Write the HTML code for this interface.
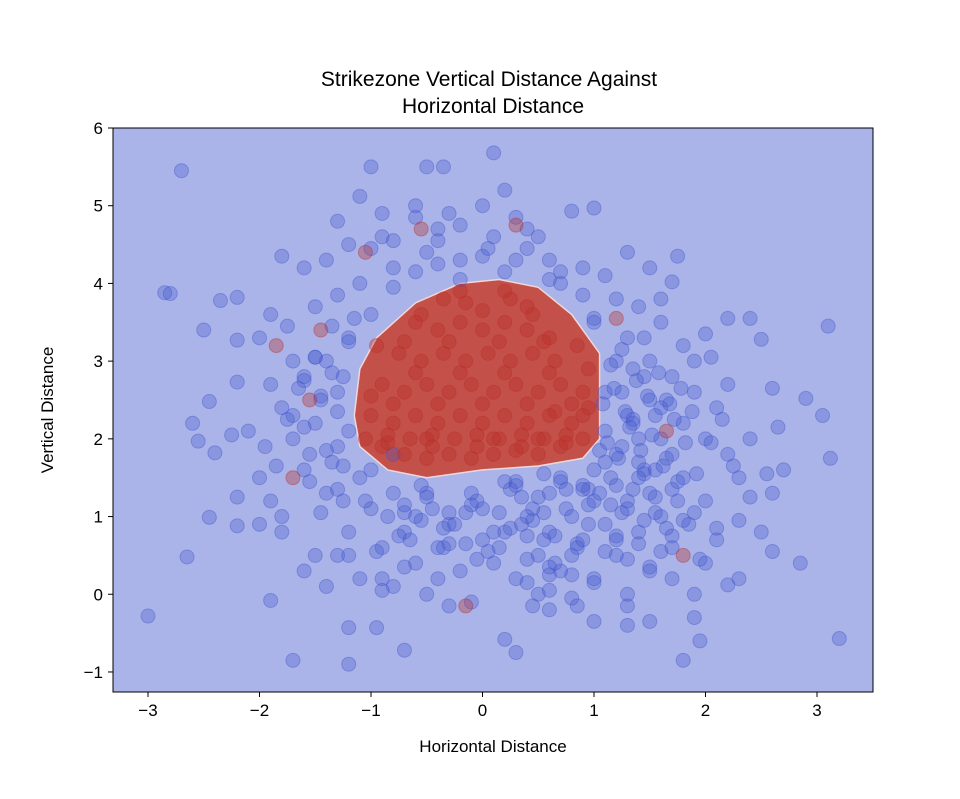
<!DOCTYPE html>
<html><head><meta charset="utf-8"><style>
body{margin:0;background:#fff;}
svg text{font-family:"Liberation Sans","DejaVu Sans",sans-serif;fill:#000;}
</style></head><body>
<svg id="chart" width="960" height="794">
<defs><clipPath id="plotclip"><rect x="113" y="128" width="760" height="564"/></clipPath></defs>
<rect x="113" y="128" width="760" height="564" fill="#aab4e8"/>
<g id="region" clip-path="url(#plotclip)"></g>
<g id="dots" clip-path="url(#plotclip)"></g>
<rect x="113" y="128" width="760" height="564" fill="none" stroke="#000" stroke-width="1"/>
<g id="xt"></g>
<g id="yt"></g>
<text x="489" y="86" text-anchor="middle" font-size="21">Strikezone Vertical Distance Against</text>
<text x="493" y="113" text-anchor="middle" font-size="21">Horizontal Distance</text>
<text x="493" y="752" text-anchor="middle" font-size="17">Horizontal Distance</text>
<text transform="translate(53,410) rotate(-90)" text-anchor="middle" font-size="17">Vertical Distance</text>
</svg>
<script>
const xTicks=[-3,-2,-1,0,1,2,3];
const yTicks=[-1,0,1,2,3,4,5,6];
const regionX=[-1.15,-1.1,-0.95,-0.6,-0.2,0.15,0.5,0.8,1.05,1.05,0.9,0.5,0,-0.5,-0.85,-1.1];
const regionY=[2.3,2.9,3.3,3.75,4.0,4.05,3.95,3.6,3.1,2.0,1.75,1.65,1.6,1.5,1.6,1.9];
const blueX=[-2.7,-2.85,-2.8,-3.0,-2.65,-1.7,-1.2,-0.7,3.2,3.1,3.12,2.85,3.05,2.9,1.8,0.3,0.2,0.1,-0.35,-0.5,-1.0,1.0,0.8,-1.1,-1.8,-2.2,-2.35,-2.5,-2.2,-2.2,-2.45,-2.6,-2.55,-2.4,-2.25,-2.2,-2.2,-2.45,-1.9,-1.2,-0.95,2.3,2.2,2.6,2.65,2.6,2.4,2.2,2.5,1.75,1.7,2.0,2.05,2.7,2.55,2.6,2.4,2.5,2.3,1.9,1.95,1.5,1.3,1.0,0.85,0.6,0.45,-0.1,-0.5,-0.8,-1.1,-1.4,-1.5,-1.8,-1.9,-2.0,-1.95,-1.8,-1.6,-1.9,-1.75,-1.5,-1.6,-1.4,-1.2,-1.3,-0.9,-0.6,-0.3,0.0,0.2,0.4,0.6,0.9,1.1,1.3,1.5,1.2,1.4,1.6,1.8,1.3,1.5,1.7,1.9,2.1,2.0,2.2,1.8,2.0,1.6,1.4,1.7,1.5,1.2,1.0,0.7,0.5,0.3,0.1,-0.2,-0.4,-0.6,-0.9,-1.2,-1.0,-1.4,-1.6,-1.3,-1.5,-1.3,-1.4,-1.2,-1.0,-1.1,-0.8,-0.5,-0.2,0.3,0.7,1.0,1.2,1.1,1.3,1.5,1.6,1.4,1.2,1.0,0.8,0.6,0.4,0.2,0.0,-0.3,-0.6,-0.8,-1.1,0.9,1.1,1.3,1.5,1.7,1.8,1.4,1.2,1.0,0.7,0.3,-0.1,-0.5,1.1,1.25,1.35,1.45,1.6,0.5,-0.3,0.8,1.3,1.7,2.1,2.3,2.4,2.2,1.9,-2.1,-1.7,-1.8,-1.6,-1.3,-2.0,-1.2,-1.25,-0.7,-0.9,-0.4,0.0,0.6,1.9,2.0,-1.7,-1.9,-2.0,-0.9,-0.4,0.1,0.5,1.15,1.25,1.35,1.05,1.45,1.55,1.2,1.3,1.4,0.95,1.1,0.9,0.75,0.55,0.35,0.15,-0.05,-0.25,-0.45,-0.65,-0.85,-1.05,-1.2,-1.35,1.6,1.75,1.65,1.85,1.55,1.45,0.25,0.45,-0.15,-0.35,0.65,0.85,-0.7,-0.55,-1.45,-1.55,-1.7,-1.25,-1.0,-0.8,0.1,0.3,0.55,0.95,
1.12,1.22,1.32,1.42,1.52,1.62,1.72,1.82,1.92,1.08,1.18,1.28,1.38,1.48,1.58,1.68,1.78,1.88,1.15,1.25,1.35,1.45,1.55,1.65,1.75,1.1,1.2,1.3,1.4,1.5,1.6,1.7,1.8,1.05,1.15,1.25,1.35,1.45,1.55,1.65,0.35,0.55,0.75,0.95,0.25,0.45,0.65,0.85,0.15,0.4,0.6,0.8,0.05,-0.15,-0.35,-0.55,-0.75,-0.95,0.2,0.5,0.7,0.9,-0.1,-0.3,-0.5,-0.7,-1.3,-1.45,-1.6,-1.35,-1.5,-1.65,-1.25,-1.4,-1.55,-1.2,-1.35,-1.5,-1.75,-1.85,-1.3,-1.45,-1.6,-1.15,-1.3,-0.8,-0.6,-0.4,-0.2,0.0,0.2,0.4,0.6,-1.0,-0.8,-0.6,-0.4,-0.2,0.05,0.3,0.7,0.9,1.0,1.7,1.9,2.05,2.15,2.25,1.95,2.1,0.4,0.6,-0.05,-0.3,-0.7,-0.9,1.0,0.8,0.6,0.4,1.3,1.5];
const blueY=[5.45,3.88,3.87,-0.28,0.48,-0.85,-0.9,-0.72,-0.57,3.45,1.75,0.4,2.3,2.52,-0.85,-0.75,-0.58,5.68,5.5,5.5,5.5,4.97,4.93,5.12,4.35,3.82,3.78,3.4,3.27,2.73,2.48,2.2,1.97,1.82,2.05,1.25,0.88,0.99,-0.08,-0.43,-0.43,0.2,0.12,0.55,2.15,2.65,3.55,3.55,3.28,4.35,4.02,3.35,3.05,1.6,1.55,1.3,1.25,0.8,0.95,-0.3,-0.6,-0.35,-0.4,-0.35,-0.15,-0.2,-0.15,-0.1,0.0,0.1,0.2,0.1,0.5,0.8,1.2,1.5,1.9,2.4,2.8,3.6,3.45,3.7,4.2,4.3,4.5,4.8,4.9,5.0,4.9,5.0,5.2,4.7,4.3,4.2,4.1,4.4,4.2,3.8,3.7,3.5,3.2,3.3,3.0,2.8,2.6,2.4,2.0,1.8,1.5,1.2,1.0,0.8,0.6,0.3,0.5,0.2,0.3,0.5,0.2,0.4,0.3,0.6,0.4,0.6,0.8,1.1,1.3,1.6,1.9,2.2,2.6,3.0,3.3,3.6,4.0,4.2,4.4,4.3,4.3,4.0,3.5,3.0,2.6,2.3,2.5,2.0,1.7,1.4,1.2,1.0,1.3,1.0,0.8,1.1,0.9,1.0,1.3,1.5,0.7,0.9,1.1,1.3,1.8,2.2,2.0,1.8,1.6,1.5,1.4,1.3,1.3,2.1,2.6,2.9,3.3,3.8,0.0,-0.15,0.5,0.0,0.2,0.7,1.5,2.0,2.7,3.0,2.1,2.0,1.0,0.3,0.5,0.9,2.1,1.2,0.8,0.2,0.2,0.7,0.8,0.0,0.4,3.0,2.7,3.3,4.6,4.7,4.6,4.6,1.5,1.9,2.2,1.3,1.6,2.3,0.7,1.2,1.5,0.9,1.7,1.4,1.1,0.7,0.9,0.6,1.2,0.9,1.1,0.7,1.0,1.2,0.5,1.7,2.4,1.2,2.5,0.9,1.6,2.8,1.35,1.1,1.05,0.6,0.4,0.6,1.05,1.4,2.5,1.8,2.3,2.8,1.6,1.8,0.8,1.45,1.55,1.35,
1.95,1.75,2.15,1.85,2.05,1.65,2.25,1.95,1.55,2.45,2.65,2.35,2.75,2.55,2.85,2.45,2.65,2.35,1.15,1.05,1.35,0.95,1.25,0.85,1.45,0.55,0.75,0.45,0.65,0.35,0.55,0.75,0.95,1.85,2.95,3.15,2.25,1.55,1.05,1.75,1.25,1.05,1.35,1.15,0.85,0.95,0.75,0.65,1.05,0.45,0.35,0.25,0.55,0.65,0.85,0.95,0.75,0.55,1.45,1.25,1.45,1.35,1.15,1.05,1.25,1.15,2.35,2.55,2.15,2.85,3.05,2.65,1.65,1.85,1.45,3.25,3.45,3.05,2.25,1.65,1.35,1.05,2.75,3.55,3.85,3.95,4.15,4.25,4.05,4.35,4.15,4.45,4.05,4.45,4.55,4.85,4.55,4.75,4.45,4.85,4.15,3.85,3.55,1.35,1.05,1.95,2.25,1.65,0.45,0.85,0.15,0.05,0.45,0.65,0.35,0.05,0.15,-0.05,0.25,0.75,-0.15];
const redX=[-0.15,-1.55,-1.7,-1.85,-1.45,1.2,1.65,1.8,-1.05,-0.55,0.3,-0.9,-0.7,-0.5,-0.3,-0.1,0.1,0.3,0.5,0.7,0.9,-1.0,-0.8,-0.6,-0.4,-0.2,0.0,0.2,0.4,0.6,0.8,0.95,-0.9,-0.7,-0.5,-0.3,-0.1,0.1,0.3,0.5,0.7,0.9,-0.75,-0.55,-0.35,-0.15,0.05,0.25,0.45,0.65,-0.6,-0.4,-0.2,0.0,0.2,0.4,0.6,-1.05,-0.85,-0.65,-0.45,-0.25,-0.05,0.15,0.35,0.55,0.75,0.95,-0.95,-0.35,0.25,0.85,-0.15,0.45,-0.55,0.65,
-0.8,-0.4,0.0,0.4,0.8,-0.6,-0.2,0.2,0.6,-1.0,-0.5,0.1,0.5,0.9,-0.7,-0.3,0.15,0.55,-0.85,-0.45,-0.05,0.35,0.75,0.0,0.2,-0.2,0.4];
const redY=[-0.15,2.5,1.5,3.2,3.4,3.55,2.1,0.5,4.4,4.7,4.75,1.9,1.8,1.75,1.8,1.75,1.8,1.85,1.8,1.9,2.0,2.3,2.2,2.3,2.2,2.3,2.2,2.3,2.2,2.3,2.2,2.4,2.7,2.6,2.7,2.6,2.7,2.6,2.7,2.6,2.7,2.6,3.1,3.0,3.1,3.0,3.1,3.0,3.1,3.0,3.5,3.4,3.5,3.4,3.5,3.4,3.3,2.0,2.05,2.0,2.05,2.0,2.05,2.0,2.05,2.0,2.05,2.9,3.2,3.8,3.8,3.2,3.75,3.6,3.6,2.35,
2.45,2.45,2.45,2.45,2.45,2.85,2.85,2.85,2.85,2.55,2.0,2.0,2.0,2.3,3.25,3.25,3.25,3.25,1.95,1.9,1.9,1.9,1.95,3.65,3.9,3.9,3.7];
const X=v=>148+(v+3)*111.5;
const Y=v=>128+(6-v)*77.71;
const NS='http://www.w3.org/2000/svg';
function mk(t,a,p){const e=document.createElementNS(NS,t);for(const k in a)e.setAttribute(k,a[k]);p.appendChild(e);return e;}
const reg=document.getElementById('region');
const poly=mk('polygon',{points:regionX.map((x,i)=>X(x)+','+Y(regionY[i])).join(' '),fill:'#c4504a',stroke:'#f0d8d8','stroke-width':1.5},reg);


const dots=document.getElementById('dots');
const nB=Math.min(blueX.length,blueY.length);
for(let i=0;i<nB;i++){const c=mk('circle',{cx:X(blueX[i]),cy:Y(blueY[i]),r:7,fill:'rgba(65,85,205,0.3)',stroke:'rgba(65,85,205,0.4)','stroke-width':1},dots);

}
const nR=Math.min(redX.length,redY.length);
for(let i=0;i<nR;i++){const c=mk('circle',{cx:X(redX[i]),cy:Y(redY[i]),r:7,fill:'rgba(185,45,40,0.35)',stroke:'rgba(185,45,40,0.4)','stroke-width':1},dots);

}
const xt=document.getElementById('xt');
xTicks.forEach(v=>{const l=mk('line',{x1:X(v),x2:X(v),y1:692,y2:697,stroke:'#000'},xt);


const t=mk('text',{x:X(v),y:716,'text-anchor':'middle','font-size':17},xt);t.textContent=v<0?'\u2212'+(-v):v;

});
const yt=document.getElementById('yt');
yTicks.forEach(v=>{const l=mk('line',{x1:108,x2:113,y1:Y(v),y2:Y(v),stroke:'#000'},yt);


const t=mk('text',{x:103,y:Y(v)+6,'text-anchor':'end','font-size':17},yt);t.textContent=v<0?'\u2212'+(-v):v;

});
</script>
</body></html>
